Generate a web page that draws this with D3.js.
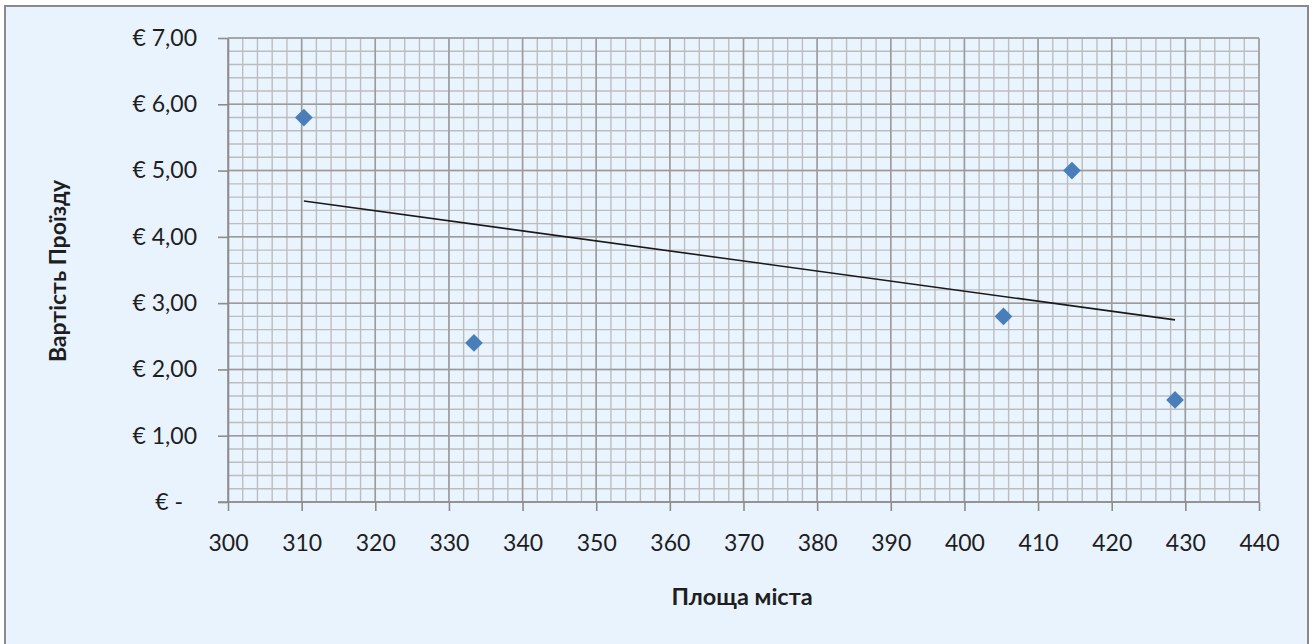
<!DOCTYPE html>
<html>
<head>
<meta charset="utf-8">
<script src="https://cdn.jsdelivr.net/npm/d3@7"></script>
<style>
  html, body { margin: 0; padding: 0; background: #ffffff; }
  svg { display: block; }
  text { font-family: Lato, "Open Sans", sans-serif; fill: #1e1e1e; }
</style>
</head>
<body>
<svg id="chart" width="1316" height="644"></svg>
<script>
// City area vs. fare price, with a linear trendline
const areas = [310.3, 333.4, 405.3, 414.6, 428.6];
const fares = [5.80, 2.40, 2.80, 5.00, 1.54];

const xTicks = [300, 310, 320, 330, 340, 350, 360, 370, 380, 390, 400, 410, 420, 430, 440];
const yTicks = [0, 1, 2, 3, 4, 5, 6, 7];
const yTickLabels = ["€ -", "€ 1,00", "€ 2,00", "€ 3,00", "€ 4,00", "€ 5,00", "€ 6,00", "€ 7,00"];

const xTitle = "Площа міста";
const yTitle = "Вартість Проїзду";

const svg = d3.select("#chart");
const W = 1316, H = 644;
const plot = { left: 228, right: 1259, top: 38, bottom: 502 };

// Chart frame
svg.append("rect")
  .attr("x", 5).attr("y", 6)
  .attr("width", 1303).attr("height", H)
  .attr("fill", "#e9f3fd")
  .attr("stroke", "#8a8a8a").attr("stroke-width", 2);

const x = d3.scaleLinear().domain([300, 440]).range([plot.left, plot.right]);
const y = d3.scaleLinear().domain([0, 7]).range([plot.bottom, plot.top]);

// Plot area background
svg.append("rect")
  .attr("x", plot.left).attr("y", plot.top)
  .attr("width", plot.right - plot.left).attr("height", plot.bottom - plot.top)
  .attr("fill", "#eaf4fe");

// Minor grid
const grid = svg.append("g");
const xMinor = x.ticks(70);
const yMinor = y.ticks(35);
grid.selectAll(".vminor").data(xMinor).join("line")
  .attr("x1", d => x(d)).attr("x2", d => x(d))
  .attr("y1", plot.top).attr("y2", plot.bottom)
  .attr("stroke", "#bdbdbd").attr("stroke-width", 1.4);
grid.selectAll(".hminor").data(yMinor).join("line")
  .attr("x1", plot.left).attr("x2", plot.right)
  .attr("y1", d => y(d)).attr("y2", d => y(d))
  .attr("stroke", "#bdbdbd").attr("stroke-width", 1.4);
// Major grid
grid.selectAll(".vmajor").data(xTicks).join("line")
  .attr("x1", d => x(d)).attr("x2", d => x(d))
  .attr("y1", plot.top).attr("y2", plot.bottom)
  .attr("stroke", "#9b9b9b").attr("stroke-width", 1.5);
grid.selectAll(".hmajor").data(yTicks).join("line")
  .attr("x1", plot.left).attr("x2", plot.right)
  .attr("y1", d => y(d)).attr("y2", d => y(d))
  .attr("stroke", "#9b9b9b").attr("stroke-width", 1.5);

// Axes
const xAxis = svg.append("g")
  .attr("transform", `translate(0,${plot.bottom})`)
  .call(d3.axisBottom(x).tickValues(xTicks).tickSize(9).tickPadding(24).tickSizeOuter(0));
const yAxis = svg.append("g")
  .attr("transform", `translate(${plot.left},0)`)
  .call(d3.axisLeft(y).tickValues(yTicks).tickSize(10).tickPadding(21).tickSizeOuter(0)
    .tickFormat((d, i) => yTickLabels[i]));

[xAxis, yAxis].forEach(a => {
  a.select(".domain").attr("stroke", "#8c8c8c").attr("stroke-width", 1.6);
  a.selectAll(".tick line").attr("stroke", "#8c8c8c").attr("stroke-width", 1.6);
  a.selectAll("text").attr("font-family", "Lato, sans-serif").attr("font-size", 23).attr("fill", "#1e1e1e");
});
// Extend the x axis line under the y tick marks
xAxis.select(".domain").attr("d", `M${plot.left - 10},0H${plot.right}`);
// Accounting-style zero label sits left of the decimals
yAxis.selectAll(".tick").filter(d => d === 0).select("text").attr("dx", -14);

// Trendline (least squares fit)
const mx = d3.mean(areas), my = d3.mean(fares);
const sxy = d3.sum(areas, (a, i) => (a - mx) * (fares[i] - my));
const sxx = d3.sum(areas, a => (a - mx) * (a - mx));
const slope = sxy / sxx, intercept = my - slope * mx;
const [x0, x1] = d3.extent(areas);
svg.append("line")
  .attr("x1", x(x0)).attr("y1", y(intercept + slope * x0))
  .attr("x2", x(x1)).attr("y2", y(intercept + slope * x1))
  .attr("stroke", "#1a1a1a").attr("stroke-width", 1.6);

// Diamond markers
const diamond = d3.symbol().type(d3.symbolDiamond2).size(200);
svg.selectAll(".pt").data(areas).join("path")
  .attr("d", diamond)
  .attr("transform", (d, i) => `translate(${x(d)},${y(fares[i])})`)
  .attr("fill", "#4a7ebb");

// Axis titles
svg.append("text")
  .attr("x", 742).attr("y", 605)
  .attr("text-anchor", "middle")
  .attr("font-size", 23.5).attr("font-weight", "bold")
  .text(xTitle);
svg.append("text")
  .attr("transform", `translate(66,${271}) rotate(-90)`)
  .attr("text-anchor", "middle")
  .attr("font-size", 23).attr("font-weight", "bold")
  .text(yTitle);
</script>
</body>
</html>
